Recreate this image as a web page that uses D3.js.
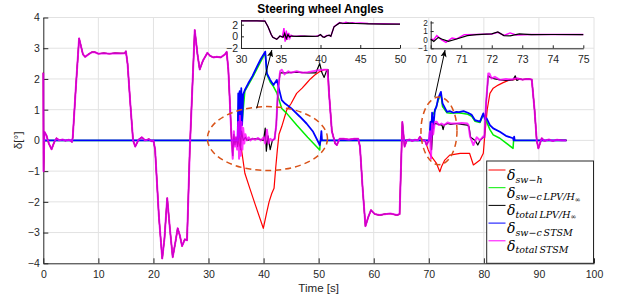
<!DOCTYPE html>
<html>
<head>
<meta charset="utf-8">
<script src="https://d3js.org/d3.v7.min.js"></script>
<style>
body{margin:0;padding:0;background:#fff;overflow:hidden;}
svg{display:block;font-family:'Liberation Sans',Arial,sans-serif;}
.tick text{fill:#262626;font-size:10.5px;}
.domain{stroke:#262626;}
.tick line{stroke:#262626;}
.small .tick text{font-size:8.2px;}
</style>
</head>
<body>
<div id="chart"></div>
<script>
// ===== data : [time (s), angle (deg)] =====
// pieces where driver, total LPV and total STSM coincide
const sharedStart = [[0,2.2],[0.05,-1.0],[0.2,0.28],[0.6,0.15],[1.0,-0.1],[1.5,-0.29],[2.0,-0.05],[2.4,0.07],[2.9,0.0],[3.5,0.03],[4.0,-0.01],[4.6,0.02],[5.0,-0.01],[5.2,-0.05],[5.35,0.1],[5.9,1.7],[6.5,3.32],[6.8,3.1],[7.2,2.8],[7.6,2.72],[8.2,2.8],[8.8,2.87],[9.4,2.87],[10,2.82],[11,2.84],[12,2.82],[13,2.84],[14,2.83],[14.8,2.84],[15.0,2.9],[15.3,2.5],[15.8,1.2],[16.3,0.0],[16.7,-0.2],[17.3,0.02],[17.9,0.1],[18.5,0.0],[19.2,0.04],[19.7,-0.03],[20.0,0.0],[20.3,-0.3],[21.0,-2.5],[21.6,-3.84],[22.0,-3.2],[22.5,-1.88],[23.0,-2.9],[23.5,-3.8],[24.0,-3.3],[24.4,-2.86],[24.8,-3.1],[25.2,-3.44],[25.7,-3.22],[26.1,-3.25],[26.6,-0.3],[27.5,3.59],[28.0,2.8],[28.4,2.31],[29.0,2.6],[29.8,2.85],[30.3,2.75],[30.9,2.7],[31.5,2.72],[32.2,2.7],[33.0,2.8],[33.3,2.88],[33.6,2.3],[34.2,0.0]];
const sharedMid = [[53.3,-0.15],[53.8,0.05],[54.5,0.05],[55.5,0.03],[56.5,0.05],[57.2,0.05],[57.5,-0.2],[58.0,-1.6],[58.5,-2.79],[59.0,-2.5],[59.5,-2.27],[60.2,-2.4],[61.1,-2.43],[62,-2.4],[63,-2.38],[64.2,-2.43],[64.7,-2.4],[65.2,0.6],[65.6,-0.2],[66.0,0.0],[66.5,0.03],[67,-0.02],[67.5,0.02],[68.0,0.0],[68.4,0.12],[68.8,0.0],[69.3,0.0]];
const sharedEnd = [[86.5,2.0],[87,1.98],[88,2.0],[88.7,1.98],[89.2,1.0],[89.6,0.0],[89.9,-0.26],[90.5,0.07],[91,-0.02],[91.8,0.03],[92.5,-0.02],[93.3,0.02],[94.2,0.0],[95,0.0]];

// fault windows, one list per signal
const driver1 = [[35.3,0.0],[36.0,-0.31],[36.6,-1.07],[37.5,-1.56],[38.5,-2.1],[39.95,-2.86],[40.6,-2.32],[41.0,-2.0],[41.5,-1.72],[41.9,-1.56],[42.2,-0.9],[42.5,-0.31],[42.8,0.2],[43.3,0.45],[44.2,0.99],[45,1.2],[46,1.53],[47,1.7],[47.8,1.86],[48.5,2.0],[49.3,2.13],[50.2,2.24],[51,2.3],[51.6,2.3],[51.9,1.5],[52.4,0.3],[53.0,-0.1]];
const driver2 = [[69.9,-0.31],[70.5,-0.53],[71.4,-0.75],[72.0,-1.02],[72.3,-0.86],[72.9,-0.64],[73.8,-0.48],[75.7,-0.42],[77.4,-0.42],[78.1,-0.8],[79.3,-0.64],[79.9,-0.42],[80.2,0.23],[80.6,0.99],[81.1,1.53],[81.7,1.7],[82.6,1.8],[83.5,1.88],[84.7,1.97],[85.5,1.98],[86,2.0]];

const totalLpv1 = [[34.4,-0.5],[34.6,0.2],[34.8,-0.15],[35.0,0.1],[35.3,-0.2],[35.6,0.4],[35.8,-0.3],[36.0,0.3],[36.3,0.0],[36.7,0.1],[37.0,0.0],[38,0.05],[39,0.05],[40.0,0.0],[40.3,0.4],[40.5,-0.35],[40.8,0.15],[41.2,-0.3],[41.6,0.0],[42.0,0.05],[42.3,0.5],[42.6,1.6],[43.0,2.2],[44,2.2],[46,2.22],[48,2.2],[49.5,2.2],[50.2,2.5],[50.6,2.2],[51.0,2.05],[51.4,2.25],[51.7,2.3],[51.9,1.5],[52.4,0.3],[53.0,-0.1]];
const totalLpv2 = [[69.6,-0.15],[70.0,0.0],[70.3,0.2],[70.5,-0.3],[70.8,0.5],[71.2,0.55],[71.8,0.52],[72.4,0.5],[72.6,0.35],[72.8,0.5],[73.4,0.55],[74,0.52],[75,0.55],[76,0.52],[77.0,0.5],[77.3,0.45],[77.6,0.1],[78.4,0.0],[78.9,-0.15],[79.3,0.0],[79.9,0.1],[80.1,0.1],[80.4,1.2],[80.8,2.1],[81.2,2.05],[82,2.0],[83,1.97],[84,1.95],[85.3,1.97],[85.7,2.1],[86.0,1.95]];

const totalStsm1 = [[34.4,-0.6],[34.6,0.3],[34.8,-0.2],[35.0,0.1],[35.2,-0.3],[35.4,0.6],[35.55,-0.6],[35.7,0.8],[35.85,-0.5],[36.0,0.6],[36.15,-0.3],[36.3,0.4],[36.5,-0.1],[36.7,0.2],[37.0,0.0],[37.3,0.1],[37.6,0.0],[38,0.06],[38.5,0.02],[39.0,0.08],[39.5,0.0],[40.0,0.1],[40.3,-0.1],[40.6,0.35],[40.9,-0.1],[41.2,0.05],[41.6,0.0],[42.0,0.05],[42.3,0.5],[42.6,1.6],[43.0,2.25],[43.3,2.3],[43.8,2.15],[44.5,2.25],[45,2.2],[46,2.25],[47,2.2],[48,2.22],[49,2.25],[50,2.28],[51,2.3],[51.6,2.3],[51.9,1.5],[52.4,0.3],[53.0,-0.1]];
const totalStsm2 = [[69.6,-0.15],[70.0,0.0],[70.2,0.3],[70.4,-0.6],[70.6,0.55],[70.8,0.2],[71.1,0.6],[71.4,0.61],[71.8,0.5],[72.3,0.55],[72.8,0.5],[73.4,0.58],[74,0.55],[75,0.55],[76,0.57],[77.0,0.55],[77.2,0.5],[77.5,0.12],[78.1,-0.15],[78.7,0.1],[79.3,0.0],[79.9,0.13],[80.1,0.1],[80.4,1.2],[80.8,2.18],[81.0,2.18],[81.4,2.02],[82.0,2.07],[82.9,1.97],[84,2.0],[85,1.98],[86,2.02]];

const ctrlLpv1 = [[35.5,1.4],[35.7,0.3],[35.9,1.6],[36.1,0.6],[36.6,1.6],[38,2.05],[40.3,2.85],[40.6,2.15],[41.2,1.9],[41.8,1.75],[42.4,1.55],[43.3,1.04],[44.2,0.88],[46,0.5],[48,0.1],[50.2,-0.31],[50.3,0]];
const ctrlLpv2 = [[70.4,0.5],[70.6,0.8],[71.1,0.95],[71.7,1.3],[72.2,1.52],[72.5,1.1],[73.3,0.9],[74,0.88],[75,0.9],[76,0.88],[77.1,0.85],[77.8,0.78],[78.4,0.62],[79.3,0.58],[79.9,0.84],[80.5,0.61],[81.1,0.35],[81.7,0.18],[82.9,0.07],[84,-0.08],[85.3,-0.26],[85.4,0]];

const ctrlStsm1 = [[35.4,1.53],[35.5,0.1],[35.65,1.6],[35.8,0.2],[35.95,1.7],[36.1,0.5],[36.3,1.5],[36.6,1.64],[37.2,1.85],[38,2.1],[38.8,2.4],[39.5,2.65],[40.3,2.89],[40.6,2.18],[41.2,1.97],[41.8,1.8],[42.4,1.97],[43.3,1.31],[43.9,1.2],[45,1.05],[46.6,0.77],[47.8,0.55],[49.0,0.28],[50.2,-0.15],[50.35,0],[50.5,0.3],[50.6,0]];
const ctrlStsm2 = [[70.3,0.6],[70.45,0.1],[70.6,0.9],[70.8,0.4],[71.1,0.99],[71.4,1.1],[71.7,1.37],[72.2,1.58],[72.5,1.2],[73.3,0.93],[73.8,0.95],[74.5,0.9],[75,0.93],[75.5,0.92],[76.3,0.95],[77.1,0.9],[77.8,0.83],[78.4,0.66],[79.3,0.61],[79.6,0.75],[79.9,0.88],[80.2,0.7],[80.5,0.72],[81.1,0.5],[81.7,0.39],[82.9,0.28],[84,0.15],[85.3,0.07],[85.4,0.0],[85.5,0.12],[85.6,0]];

// zoomed insets
const inset1Lpv = [[30,2.64],[31,2.64],[32,2.64],[33,2.62],[33.4,1.63],[33.8,0.3],[34.0,-0.17],[34.5,-0.51],[34.9,0.05],[35.3,-0.17],[35.5,0.5],[35.7,-0.4],[35.9,0.3],[36.1,-0.1],[36.3,0.05],[37,0.0],[38,0.02],[39,0.0],[39.7,0.05],[40,0.3],[40.3,-0.1],[40.5,-0.17],[40.8,0.1],[41.1,0.2],[41.3,0.0],[41.7,1.63],[42.4,2.3],[43,2.2],[43.5,2.25],[44.4,2.2],[46,2.15],[48,2.1],[50,2.08]];
const inset1Stsm = [[30,2.66],[31,2.66],[32,2.66],[33,2.64],[33.4,1.65],[33.8,0.3],[34.0,-0.15],[34.5,-0.5],[34.9,0.05],[35.2,-0.15],[35.4,1.4],[35.55,-0.9],[35.7,1.0],[35.85,-0.6],[36.0,0.6],[36.15,-0.3],[36.3,0.2],[36.6,0.0],[37.5,0.05],[38.5,0.0],[39.5,0.02],[40,0.25],[40.3,-0.1],[40.5,-0.1],[40.8,0.15],[41.1,0.15],[41.3,0.0],[41.7,1.65],[42.4,2.35],[42.8,2.2],[43.2,2.4],[43.6,2.25],[44.0,2.35],[44.4,2.25],[45,2.3],[46,2.2],[48,2.15],[50,2.1]];
const inset2Lpv = [[70,0.08],[70.1,-0.2],[70.25,0.27],[70.36,0.08],[70.58,-0.2],[70.85,0.08],[71.2,0.47],[71.5,0.58],[72.0,0.67],[72.2,0.9],[72.4,0.47],[72.6,0.45],[72.9,0.67],[73.3,0.58],[74,0.6],[75,0.58]];
const inset2Stsm = [[70,0.1],[70.1,0.0],[70.2,0.47],[70.35,0.0],[70.5,-0.31],[70.7,0.2],[70.85,0.1],[71.1,0.58],[71.5,0.6],[72.0,0.65],[72.2,0.85],[72.4,0.5],[72.6,0.78],[72.8,0.55],[73.3,0.6],[74,0.6],[75,0.6]];

// highlighted areas [centre t, centre v, half width t, half height v] and arrows [t0,v0,t1,v1]
const ellipses = [[40.7,0.06,10.9,1.04],[71.85,0.31,3.27,1.1]];
const arrows = [[38.75,1.04,41.5,2.94],[71.1,1.41,72.95,2.94]];

const xTicks = d3.range(0,101,10);
const yTicks = d3.range(-4,5,1);

// ===== assemble series =====
const zeroA = [[0,0],[35.3,0]], zeroB = [[70.1,0]], zeroC = [[95,0]];
const series = [
  {key:"red",   color:"#ff0000", w:1.2, data:[...sharedStart,...driver1,...sharedMid,...driver2,...sharedEnd]},
  {key:"green", color:"#00ee00", w:1.5, data:[...zeroA,...ctrlLpv1,...zeroB,...ctrlLpv2,...zeroC]},
  {key:"black", color:"#000000", w:1.2, data:[...sharedStart,...totalLpv1,...sharedMid,...totalLpv2,...sharedEnd]},
  {key:"blue",  color:"#0000ff", w:1.8, data:[...zeroA,...ctrlStsm1,...zeroB,...ctrlStsm2,...zeroC]},
  {key:"mag",   color:"#ff00ff", w:2.0, op:0.8, data:[...sharedStart,...totalStsm1,...sharedMid,...totalStsm2,...sharedEnd]}
];

const legendItems = [
  {color:"#ff0000", sub:"sw\u2212h", tail:""},
  {color:"#00ee00", sub:"sw\u2212c\u2009LPV/H", tail:"\u221e"},
  {color:"#000000", sub:"total\u2009LPV/H", tail:"\u221e"},
  {color:"#0000ff", sub:"sw\u2212c\u2009STSM", tail:""},
  {color:"#ff00ff", sub:"total\u2009STSM", tail:""}
];

// ===== drawing =====
const W = 622, H = 301;
const svg = d3.select("#chart").append("svg").attr("width", W).attr("height", H);

const x = d3.scaleLinear().domain([0,100]).range([43.3,594]);
const y = d3.scaleLinear().domain([-4,4]).range([263.3,17.5]);
const fmt = d3.format("d");

// grid
svg.append("g").selectAll("line").data(xTicks.slice(1)).join("line")
  .attr("x1", d=>x(d)).attr("x2", d=>x(d)).attr("y1", y(-4)).attr("y2", y(4))
  .attr("stroke","#e2e2e2").attr("stroke-width",1);
svg.append("g").selectAll("line").data(yTicks.slice(1)).join("line")
  .attr("x1", x(0)).attr("x2", x(100)).attr("y1", d=>y(d)).attr("y2", d=>y(d))
  .attr("stroke","#e2e2e2").attr("stroke-width",1);

// axes
svg.append("g").attr("transform",`translate(0,${y(-4)})`)
  .call(d3.axisBottom(x).tickValues(xTicks).tickFormat(fmt).tickSize(-5).tickSizeOuter(0).tickPadding(7));
svg.append("g").attr("transform",`translate(${x(0)},0)`)
  .call(d3.axisLeft(y).tickValues(yTicks).tickFormat(fmt).tickSize(-5).tickSizeOuter(0).tickPadding(3.5));

const line = d3.line().x(d=>x(d[0])).y(d=>y(d[1]));
const plot = svg.append("g");
series.forEach(s=>{
  plot.append("path").datum(s.data).attr("d", line)
    .attr("fill","none").attr("stroke",s.color).attr("stroke-width",s.w)
    .attr("stroke-opacity", s.op || 1).attr("stroke-linejoin","round");
});

// ellipses
svg.append("g").selectAll("ellipse").data(ellipses).join("ellipse")
  .attr("cx", d=>x(d[0])).attr("cy", d=>y(d[1]))
  .attr("rx", d=>x(d[0]+d[2])-x(d[0])).attr("ry", d=>y(d[1])-y(d[1]+d[3]))
  .attr("fill","none").attr("stroke","#d95319").attr("stroke-width",1.5)
  .attr("stroke-dasharray","6,4");

// arrows
svg.append("defs").append("marker").attr("id","head")
  .attr("viewBox","0 -4 8 8").attr("refX",8).attr("refY",0)
  .attr("markerWidth",7).attr("markerHeight",7).attr("markerUnits","userSpaceOnUse")
  .attr("orient","auto")
  .append("path").attr("d","M0,-3.5L8,0L0,3.5L2,0Z").attr("fill","#000");
svg.append("g").selectAll("line").data(arrows).join("line")
  .attr("x1", d=>x(d[0])).attr("y1", d=>y(d[1])).attr("x2", d=>x(d[2])).attr("y2", d=>y(d[3]))
  .attr("stroke","#000").attr("stroke-width",1).attr("marker-end","url(#head)");

// labels
svg.append("text").attr("x",(x(0)+x(100))/2).attr("y",292)
  .attr("text-anchor","middle").attr("font-size","11.6px").attr("fill","#262626").text("Time [s]");
svg.append("text").attr("transform",`translate(22,${y(0)}) rotate(-90)`)
  .attr("text-anchor","middle").attr("font-size","11.6px").attr("fill","#262626").text("\u03b4[\u00b0]");

// insets
function inset(xd, yd, xr, yr, xt, yt, lpv, stsm, pad, yClass){
  const ix = d3.scaleLinear().domain(xd).range(xr);
  const iy = d3.scaleLinear().domain(yd).range(yr);
  const g = svg.append("g");
  g.append("g").attr("transform",`translate(0,${yr[0]})`)
    .call(d3.axisBottom(ix).tickValues(xt).tickFormat(fmt).tickSize(-3).tickSizeOuter(0).tickPadding(pad));
  g.append("g").attr("class", yClass || null).attr("transform",`translate(${xr[0]},0)`)
    .call(d3.axisLeft(iy).tickValues(yt).tickFormat(fmt).tickSize(-3).tickSizeOuter(0).tickPadding(3));
  const il = d3.line().x(d=>ix(d[0])).y(d=>iy(d[1]));
  g.append("path").datum(stsm).attr("d",il).attr("fill","none").attr("stroke","#ff00ff").attr("stroke-width",1.4);
  g.append("path").datum(lpv).attr("d",il).attr("fill","none").attr("stroke","#000").attr("stroke-width",1.2);
  return ix;
}
const ix1 = inset([30,50],[-2,2.8],[241,400],[48,20],[30,35,40,45,50],[-2,0,2],inset1Lpv,inset1Stsm,8);
inset([70,75],[-1,2.2],[430.7,583.3],[48.3,20.7],[70,71,72,73,74,75],[-1,0,1,2],inset2Lpv,inset2Stsm,7.5,"small");

svg.append("text").attr("x",(ix1(30)+ix1(50))/2).attr("y",13)
  .attr("text-anchor","middle").attr("font-size","11.9px").attr("font-weight","bold")
  .attr("fill","#000").text("Steering wheel Angles");

// legend
const lg = svg.append("g");
lg.append("rect").attr("x",486.7).attr("y",161).attr("width",106.8).attr("height",102.3)
  .attr("fill","#fff").attr("stroke","#262626").attr("stroke-width",1);
legendItems.forEach((d,i)=>{
  const ly = 170 + i*17.7;
  lg.append("line").attr("x1",488.5).attr("x2",505.5).attr("y1",ly).attr("y2",ly)
    .attr("stroke",d.color).attr("stroke-width",1);
  const t = lg.append("text").attr("x",507).attr("y",ly+10)
    .attr("font-family","'DejaVu Serif',serif").attr("font-style","italic").attr("fill","#000");
  t.append("tspan").attr("font-size","14px").text("\u03b4");
  t.append("tspan").attr("font-size","9.5px").attr("dy",2.5).text(d.sub);
  if (d.tail) t.append("tspan").attr("font-size","7px").attr("dy",1.5).text(d.tail);
});
</script>
</body>
</html>
